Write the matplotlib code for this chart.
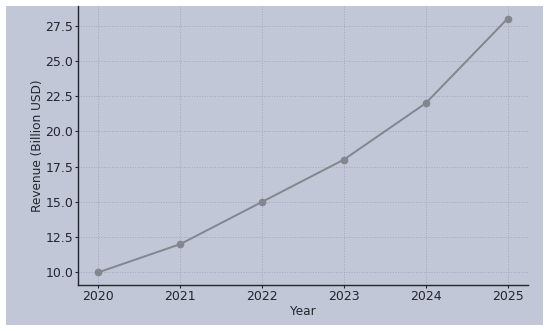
import matplotlib.pyplot as plt
from matplotlib.patches import Rectangle

years = [2020, 2021, 2022, 2023, 2024, 2025]
revenue = [10, 12, 15, 18, 22, 28]

bg = '#c1c7d7'
txt = '#25252f'

fig = plt.figure(figsize=(5.5, 3.31), dpi=100)
fig.patch.set_facecolor('white')
fig.add_artist(Rectangle((6/550, 6/331), 537/550, 319/331,
                         transform=fig.transFigure, facecolor=bg, edgecolor='none', zorder=-10))

ax = fig.add_axes([78/550, 46/331, 450/550, 279/331])
ax.set_facecolor(bg)
ax.plot(years, revenue, color='#83868f', linewidth=1.4, marker='o', markersize=4.5)

ax.set_xlabel('Year', fontsize=8.7, color=txt, labelpad=1.5)
ax.set_ylabel('Revenue (Billion USD)', fontsize=8.7, color=txt, labelpad=1)
ax.tick_params(labelsize=9, colors=txt, length=2, width=0.8, pad=1.5)
ax.grid(True, linestyle=':', color='#a3a8b8', linewidth=0.7)
for s in ['top', 'right']:
    ax.spines[s].set_visible(False)
for s in ['left', 'bottom']:
    ax.spines[s].set_color(txt)
    ax.spines[s].set_linewidth(1.0)

fig.savefig('out.png', dpi=100, facecolor=fig.get_facecolor())
